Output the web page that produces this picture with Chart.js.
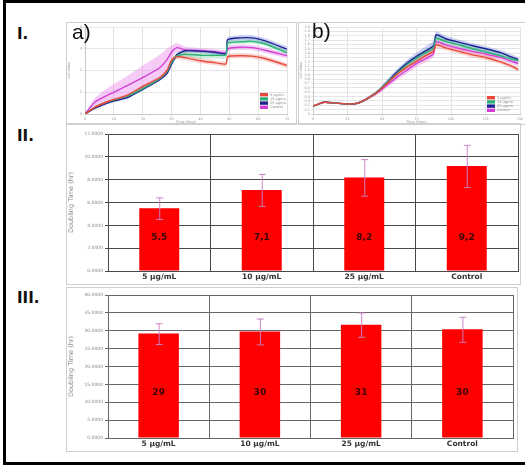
<!DOCTYPE html>
<html>
<head>
<meta charset="utf-8">
<script src="https://cdn.jsdelivr.net/npm/chart.js@4/dist/chart.umd.min.js"></script>
<style>
html,body{margin:0;padding:0;background:#fff;width:525px;height:468px;overflow:hidden;position:relative;font-family:"DejaVu Sans",sans-serif;}
.box{position:absolute;box-sizing:border-box;}
.box canvas{display:block;}
.frame{border:1px solid #cfcfcf;}
.roman{position:absolute;font-family:"DejaVu Sans",sans-serif;font-weight:bold;font-size:15px;color:#111;}
.sub{position:absolute;font-family:"Liberation Sans",Arial,sans-serif;font-size:21px;color:#111;}
#outer{position:absolute;left:3px;top:0;width:540px;height:465px;border:3px solid #000;box-sizing:border-box;}
</style>
</head>
<body>
<div id="outer"></div>
<div class="box frame" style="left:66px;top:22px;width:231px;height:103px;"><canvas id="ca" width="229" height="101"></canvas></div>
<div class="box frame" style="left:298px;top:22px;width:230px;height:103px;"><canvas id="cb" width="228" height="101"></canvas></div>
<div class="box frame" style="left:66px;top:123px;width:455px;height:162px;"><canvas id="c2" width="453" height="160"></canvas></div>
<div class="box frame" style="left:66px;top:287px;width:452px;height:165px;"><canvas id="c3" width="450" height="163"></canvas></div>
<div class="roman" style="left:17px;top:25px;">I.</div>
<div class="roman" style="left:17px;top:127px;">II.</div>
<div class="roman" style="left:17px;top:289px;">III.</div>
<div class="sub" style="left:72px;top:20px;">a)</div>
<div class="sub" style="left:312px;top:19px;">b)</div>
<script>
// ---------- Panel I a) ----------
const timeA = [0,3.5,8.7,14.6,20.1,26.0,28.4,30.1,31.9,34.7,39.9,45.0,48.9,49.4,53.7,57.9,62.4,70.0];
const redA     = [0,0.32,0.61,0.86,1.27,1.68,2.00,2.50,2.64,2.59,2.45,2.36,2.30,2.64,2.68,2.66,2.55,2.23];
const greenA   = [0,0.32,0.59,0.82,1.18,1.64,1.95,2.41,2.68,2.75,2.70,2.70,2.73,3.25,3.32,3.34,3.23,2.82];
const navyA    = [0,0.27,0.55,0.75,1.14,1.59,1.86,2.32,2.73,2.91,2.89,2.84,2.77,3.41,3.50,3.50,3.36,2.98];
const magentaA = [0,0.55,0.92,1.30,1.68,2.14,2.50,2.86,3.05,2.95,2.91,2.86,2.82,3.00,3.07,3.05,2.93,2.68];
const errRedA     = [0,0.05,0.06,0.07,0.08,0.08,0.08,0.10,0.12,0.12,0.12,0.12,0.12,0.12,0.12,0.12,0.12,0.12];
const errGreenA   = [0,0.05,0.06,0.07,0.08,0.08,0.10,0.12,0.12,0.15,0.15,0.15,0.15,0.10,0.10,0.10,0.10,0.10];
const errNavyA    = [0,0.04,0.05,0.05,0.06,0.06,0.06,0.08,0.08,0.08,0.08,0.08,0.08,0.12,0.12,0.12,0.12,0.12];
const errMagentaA = [0,0.20,0.35,0.45,0.55,0.60,0.50,0.30,0.20,0.15,0.12,0.12,0.12,0.12,0.12,0.12,0.12,0.12];

// ---------- Panel I b) ----------
const timeB = [0,7.9,16.6,25.3,32.5,39.7,47.0,54.2,61.4,68.6,75.9,81.6,87.4,89.2,96.1,106.9,115.6,125.0,135.8,143.1,148.8];
const redB     = [0.18,0.27,0.25,0.23,0.25,0.36,0.51,0.72,0.93,1.09,1.23,1.34,1.45,1.59,1.52,1.43,1.36,1.30,1.20,1.11,1.02];
const greenB   = [0.18,0.27,0.25,0.23,0.25,0.36,0.52,0.74,0.95,1.15,1.30,1.41,1.52,1.74,1.67,1.58,1.50,1.43,1.34,1.27,1.23];
const navyB    = [0.18,0.27,0.25,0.23,0.25,0.36,0.52,0.75,0.98,1.18,1.34,1.45,1.57,1.82,1.73,1.64,1.57,1.50,1.41,1.32,1.25];
const magentaB = [0.18,0.27,0.25,0.23,0.25,0.36,0.50,0.68,0.86,1.02,1.18,1.27,1.39,1.66,1.59,1.50,1.44,1.38,1.30,1.22,1.16];
const errRedB     = [0.01,0.02,0.02,0.02,0.02,0.03,0.04,0.05,0.06,0.06,0.07,0.07,0.08,0.08,0.06,0.06,0.06,0.06,0.05,0.05,0.05];
const errGreenB   = [0.01,0.02,0.02,0.02,0.02,0.03,0.04,0.05,0.06,0.07,0.07,0.08,0.08,0.07,0.06,0.06,0.05,0.05,0.05,0.05,0.05];
const errNavyB    = [0.01,0.02,0.02,0.02,0.02,0.03,0.04,0.06,0.07,0.08,0.09,0.10,0.12,0.08,0.07,0.06,0.06,0.06,0.06,0.06,0.06];
const errMagentaB = [0.01,0.02,0.02,0.02,0.02,0.03,0.05,0.06,0.07,0.08,0.08,0.08,0.08,0.07,0.06,0.06,0.06,0.06,0.06,0.06,0.06];

const seriesLabels = ['5 µg/mL','10 µg/mL','25 µg/mL','Control'];
const seriesColors = ['#e8473a','#2fb07a','#1c2290','#d13fd6'];
const bandColors   = ['rgba(240,110,100,0.28)','rgba(60,200,130,0.30)','rgba(70,90,220,0.28)','rgba(230,110,230,0.35)'];

// ---------- Panel II ----------
const categories = ['5 µg/mL','10 µg/mL','25 µg/mL','Control'];
const doublingII = [5.5,7.1,8.2,9.2];
const errII = [0.95,1.4,1.6,1.85];
const labelsII = ['5.5','7,1','8,2','9,2'];

// ---------- Panel III ----------
const doublingIII = [29.2,29.8,31.7,30.4];
const errIII = [2.9,3.6,3.4,3.5];
const labelsIII = ['29','30','31','30'];

const FONT = '"DejaVu Sans", sans-serif';

const miniLegend = {
  id:'miniLegend',
  afterDatasetsDraw(chart, args, opts){
    if(!opts || !opts.items) return;
    const {ctx, chartArea} = chart;
    const x0 = chartArea.right - opts.dx, y0 = chartArea.bottom - opts.dy;
    ctx.save();
    ctx.font = '3.5px ' + FONT;
    ctx.textBaseline = 'middle';
    opts.items.forEach((it,i)=>{
      const y = y0 + i*4.2;
      ctx.fillStyle = it.color;
      ctx.fillRect(x0, y, 8, 3.4);
      ctx.fillStyle = '#888';
      ctx.fillText(it.label, x0+10, y+1.8);
    });
    ctx.restore();
  }
};

function lineDatasets(times, series, errs){
  const ds = [];
  series.forEach((vals,i)=>{
    ds.push({label:'up'+i, data: times.map((t,k)=>({x:t,y:vals[k]+errs[i][k]})), borderWidth:0, pointRadius:0, fill:'+1', backgroundColor:bandColors[i], tension:0.2, order:5});
    ds.push({label:'lo'+i, data: times.map((t,k)=>({x:t,y:vals[k]-errs[i][k]})), borderWidth:0, pointRadius:0, fill:false, tension:0.2, order:5});
  });
  series.forEach((vals,i)=>{
    ds.push({label:seriesLabels[i], data: times.map((t,k)=>({x:t,y:vals[k]})), borderColor:seriesColors[i], borderWidth:1.4, pointRadius:0, fill:false, tension:0.2, order:1});
  });
  return ds;
}

function lineChart(id, times, series, errs, xMax, xStep, yMax, yStep, padRight, yWidth, legDx, legDy){
  new Chart(document.getElementById(id), {
    type:'line',
    data:{datasets: lineDatasets(times, series, errs)},
    plugins:[miniLegend],
    options:{
      responsive:false, animation:false,
      layout:{padding:{top:4, right:padRight, left:0, bottom:0}},
      plugins:{legend:{display:false}, tooltip:{enabled:false},
        miniLegend:{dx:legDx, dy:legDy, items: seriesLabels.map((l,i)=>({label:l,color:seriesColors[i]}))}},
      scales:{
        x:{type:'linear', min:0, max:xMax,
           ticks:{stepSize:xStep, font:{size:3.5, family:FONT}, color:'#999', padding:1, maxRotation:0},
           grid:{color:'#e2e2e2', tickLength:2}, border:{color:'#c8c8c8'},
           title:{display:true, text:'Time (Hour)', font:{size:3.5, family:FONT}, color:'#999', padding:0},
           afterFit(s){ s.height = 10; }},
        y:{min:0, max:yMax,
           ticks:{stepSize:yStep, autoSkip:false, font:{size:3.5, family:FONT}, color:'#999', padding:1},
           grid:{color:'#e6e6e6', tickLength:2}, border:{color:'#c8c8c8'},
           title:{display:true, text:'Cell Index', font:{size:3.5, family:FONT}, color:'#999', padding:0},
           afterFit(s){ s.width = yWidth; }}
      }
    }
  });
}

lineChart('ca', timeA, [redA,greenA,navyA,magentaA], [errRedA,errGreenA,errNavyA,errMagentaA], 70, 10, 4, 1, 9, 18, 27, 21);
lineChart('cb', timeB, [redB,greenB,navyB,magentaB], [errRedB,errGreenB,errNavyB,errMagentaB], 150, 25, 2, 0.1, 7, 14, 33, 18);

const barExtras = {
  id:'barExtras',
  afterDatasetsDraw(chart, args, opts){
    const {ctx} = chart;
    const ys = chart.scales.y;
    const meta = chart.getDatasetMeta(0);
    const vals = chart.data.datasets[0].data;
    ctx.save();
    meta.data.forEach((bar,i)=>{
      const top = ys.getPixelForValue(vals[i] + opts.errs[i]);
      const bot = ys.getPixelForValue(vals[i] - opts.errs[i]);
      ctx.strokeStyle = 'rgba(200,130,200,0.95)';
      ctx.lineWidth = 1;
      ctx.beginPath();
      ctx.moveTo(bar.x+0.5, top); ctx.lineTo(bar.x+0.5, bot);
      ctx.moveTo(bar.x-3, top+0.5); ctx.lineTo(bar.x+4, top+0.5);
      ctx.moveTo(bar.x-3, bot+0.5); ctx.lineTo(bar.x+4, bot+0.5);
      ctx.stroke();
      ctx.fillStyle = '#3a0505';
      ctx.font = 'bold 9px ' + FONT;
      ctx.textAlign = 'center';
      ctx.textBaseline = 'middle';
      ctx.fillText(opts.labels[i], bar.x, ys.getPixelForValue(opts.labelAt));
    });
    ctx.restore();
  }
};

function barChart(id, vals, errs, labels, yMax, yStep, labelAt, barPct, padTop, padRight, gridColor){
  new Chart(document.getElementById(id), {
    type:'bar',
    data:{labels: categories, datasets:[{data: vals, backgroundColor:'#ff0000', borderWidth:0, barPercentage:barPct, categoryPercentage:1}]},
    plugins:[barExtras],
    options:{
      responsive:false, animation:false,
      layout:{padding:{top:padTop, right:padRight, left:0, bottom:0}},
      plugins:{legend:{display:false}, tooltip:{enabled:false}, barExtras:{errs, labels, labelAt}},
      scales:{
        x:{grid:{color:gridColor, drawTicks:false, offset:true}, border:{color:gridColor},
           ticks:{font:{size:7.5, weight:'bold', family:FONT}, color:'#333', padding:2},
           afterFit(s){ s.height = 13; }},
        y:{min:0, max:yMax,
           ticks:{stepSize:yStep, font:{size:4.5, family:FONT}, color:'#888', padding:2, callback:v=>Number(v).toFixed(4)},
           grid:{color:gridColor, tickLength:3}, border:{color:gridColor},
           title:{display:true, text:'Doubling Time (hr)', font:{size:6.5, family:FONT}, color:'#888', padding:{top:0,bottom:2}},
           afterFit(s){ s.width = 41; }}
      }
    }
  });
}

barChart('c2', doublingII, errII, labelsII, 12, 2, 2.92, 0.39, 10, 2, '#4a4a4a');
barChart('c3', doublingIII, errIII, labelsIII, 40, 5, 12.7, 0.40, 7, 4, '#666666');
</script>
</body>
</html>
